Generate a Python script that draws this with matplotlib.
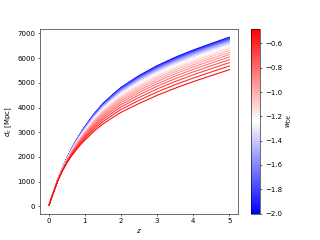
import matplotlib
matplotlib.use("Agg")
import matplotlib.pyplot as plt

# redshift sample points
z = [0.01, 0.1, 0.25, 0.375, 0.5, 0.625, 0.75, 0.875, 1.0, 1.25, 1.5, 1.75,
     2.0, 2.5, 3.0, 3.5, 4.0, 4.5, 5.0]

# dark-energy equation of state for each curve
w_de = [-2.0, -1.925, -1.85, -1.775, -1.7, -1.625, -1.55, -1.475, -1.4, -1.325,
        -1.25, -1.175, -1.1, -1.025, -0.95, -0.875, -0.8, -0.725, -0.65, -0.575, -0.5]

# comoving distance [Mpc] for each curve (same order as w_de)
d_c = [
    [45, 440, 1080, 1537, 1940, 2312, 2640, 2946, 3225, 3735, 4165, 4499, 4815, 5295, 5695, 6035, 6330, 6595, 6850],
    [45, 440, 1079, 1535, 1937, 2308, 2634, 2939, 3217, 3724, 4152, 4485, 4799, 5278, 5677, 6016, 6310, 6575, 6830],
    [45, 440, 1078, 1533, 1934, 2303, 2628, 2931, 3207, 3712, 4138, 4469, 4782, 5258, 5656, 5994, 6288, 6553, 6807],
    [45, 440, 1077, 1531, 1930, 2297, 2620, 2922, 3197, 3699, 4122, 4451, 4763, 5237, 5633, 5971, 6264, 6528, 6782],
    [45, 439, 1076, 1528, 1925, 2291, 2612, 2912, 3185, 3684, 4105, 4432, 4742, 5213, 5608, 5944, 6237, 6500, 6754],
    [45, 439, 1074, 1525, 1921, 2284, 2603, 2901, 3172, 3668, 4085, 4410, 4718, 5186, 5579, 5915, 6207, 6470, 6723],
    [45, 439, 1073, 1522, 1916, 2277, 2594, 2889, 3158, 3649, 4063, 4386, 4691, 5157, 5548, 5882, 6173, 6436, 6689],
    [45, 439, 1071, 1518, 1910, 2269, 2583, 2876, 3142, 3629, 4039, 4359, 4662, 5124, 5513, 5846, 6136, 6398, 6651],
    [45, 438, 1069, 1514, 1903, 2259, 2570, 2861, 3124, 3606, 4013, 4329, 4630, 5087, 5475, 5805, 6095, 6356, 6608],
    [45, 438, 1067, 1510, 1896, 2249, 2557, 2844, 3104, 3581, 3983, 4296, 4593, 5047, 5432, 5761, 6049, 6310, 6561],
    [45, 437, 1065, 1505, 1888, 2238, 2542, 2826, 3083, 3554, 3950, 4260, 4553, 5002, 5384, 5711, 5998, 6258, 6509],
    [45, 437, 1062, 1499, 1879, 2225, 2525, 2805, 3058, 3523, 3913, 4219, 4509, 4952, 5331, 5656, 5942, 6201, 6451],
    [45, 436, 1059, 1493, 1870, 2211, 2506, 2782, 3031, 3488, 3873, 4173, 4459, 4897, 5272, 5595, 5879, 6137, 6387],
    [45, 436, 1056, 1486, 1859, 2195, 2485, 2757, 3001, 3450, 3827, 4123, 4404, 4835, 5207, 5527, 5809, 6066, 6315],
    [45, 435, 1052, 1479, 1847, 2178, 2462, 2729, 2968, 3408, 3777, 4067, 4343, 4767, 5134, 5451, 5732, 5987, 6235],
    [45, 435, 1048, 1470, 1833, 2159, 2437, 2697, 2931, 3361, 3721, 4005, 4275, 4691, 5054, 5367, 5646, 5900, 6147],
    [45, 434, 1044, 1461, 1818, 2137, 2409, 2663, 2890, 3309, 3659, 3936, 4200, 4607, 4964, 5274, 5550, 5803, 6049],
    [45, 433, 1039, 1451, 1802, 2113, 2377, 2624, 2844, 3251, 3591, 3860, 4116, 4513, 4865, 5170, 5444, 5695, 5940],
    [45, 432, 1033, 1439, 1783, 2087, 2342, 2581, 2794, 3186, 3514, 3774, 4023, 4409, 4754, 5055, 5326, 5576, 5819],
    [45, 431, 1027, 1426, 1763, 2058, 2303, 2534, 2738, 3115, 3429, 3680, 3920, 4293, 4631, 4927, 5195, 5443, 5684],
    [45, 430, 1020, 1412, 1740, 2025, 2260, 2481, 2675, 3035, 3335, 3575, 3805, 4165, 4495, 4785, 5050, 5295, 5535],
]

fig, ax = plt.subplots(figsize=(6.4, 4.8), dpi=50)
cmap = plt.get_cmap("bwr")
norm = matplotlib.colors.Normalize(vmin=-2.0, vmax=-0.48)
for w, d in zip(w_de, d_c):
    ax.plot(z, d, color=cmap(norm(w)))

ax.set_xlabel("$z$")
ax.set_ylabel("$d_c$ [Mpc]")
sm = matplotlib.cm.ScalarMappable(norm=norm, cmap=cmap)
sm.set_array([])
cb = fig.colorbar(sm, ax=ax)
cb.set_label(r"$w_{\rm DE}$")

fig.savefig("out.png", dpi=50)
